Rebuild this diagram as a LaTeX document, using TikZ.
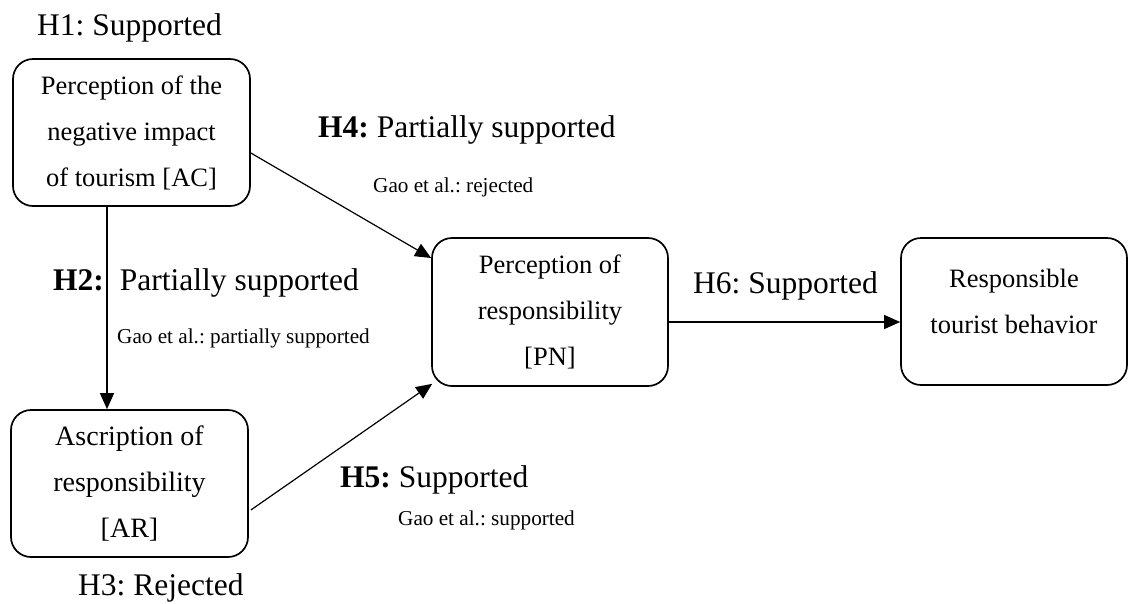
\documentclass[tikz,border=0pt]{standalone}
\usepackage{fontspec}
\setmainfont{Liberation Serif}
\usetikzlibrary{arrows.meta}
\frenchspacing
\begin{document}
\begin{tikzpicture}[x=1pt,y=-1pt,
  box/.style={draw,line width=1.7pt,rounded corners=20pt,inner sep=0pt,align=center,font=\frenchspacing\fontsize{26.5}{46}\selectfont},
  lab/.style={anchor=base west,inner sep=0pt,font=\frenchspacing\fontsize{31.5}{36}\selectfont},
  note/.style={anchor=base west,inner sep=0pt,font=\frenchspacing\fontsize{21.2}{24}\selectfont},
  arr/.style={line width=1.2pt,-{Triangle[length=16pt,width=14pt]}}]
\useasboundingbox (0,0) rectangle (1129,603);
% boxes
\node[box,minimum width=237pt,minimum height=147pt] (AC) at (131.5,132.5) {Perception of the\\negative impact\\of tourism [AC]};
\node[box,minimum width=237pt,minimum height=147pt,font=\fontsize{28}{46}\selectfont] (AR) at (129.5,483.5) {Ascription of\\responsibility\\{[AR]}};
\node[box,minimum width=236pt,minimum height=148pt] (PN) at (550,312) {Perception of\\responsibility\\{[PN]}};
\node[box,minimum width=226pt,minimum height=147pt,text depth=20pt] (RTB) at (1014,311.5) {Responsible\\tourist behavior};
% connectors
\draw[arr] ([xshift=-24.5pt]AC.south) -- ([xshift=-22.5pt]AR.north);
\draw[arr] ([yshift=-20.5pt]AC.east) -- ([yshift=54pt]PN.west);
\draw[arr] ([shift={(2pt,-26.5pt)}]AR.east) -- ([shift={(1pt,3pt)}]PN.south west);
\draw[arr] ([yshift=-10pt]PN.east) -- ([yshift=-10pt]PN.east -| RTB.west);
% labels
\node[lab] (h1) at (37,35) {H1: Supported};
\node[lab] (h4) at (318,137) {\textbf{H4:} Partially supported};
\node[note] (g4) at (373,192) {Gao et al.: rejected};
\node[lab] (h2) at (53,290) {\textbf{H2:}\hspace{16pt}Partially supported};
\node[note] (g2) at (117,343) {Gao et al.: partially supported};
\node[lab] (h5) at (340,487) {\textbf{H5:} Supported};
\node[note] (g5) at (398,525) {Gao et al.: supported};
\node[lab] (h3) at (78,595) {H3: Rejected};
\node[lab] (h6) at (693,293) {H6: Supported};
\end{tikzpicture}
\end{document}
